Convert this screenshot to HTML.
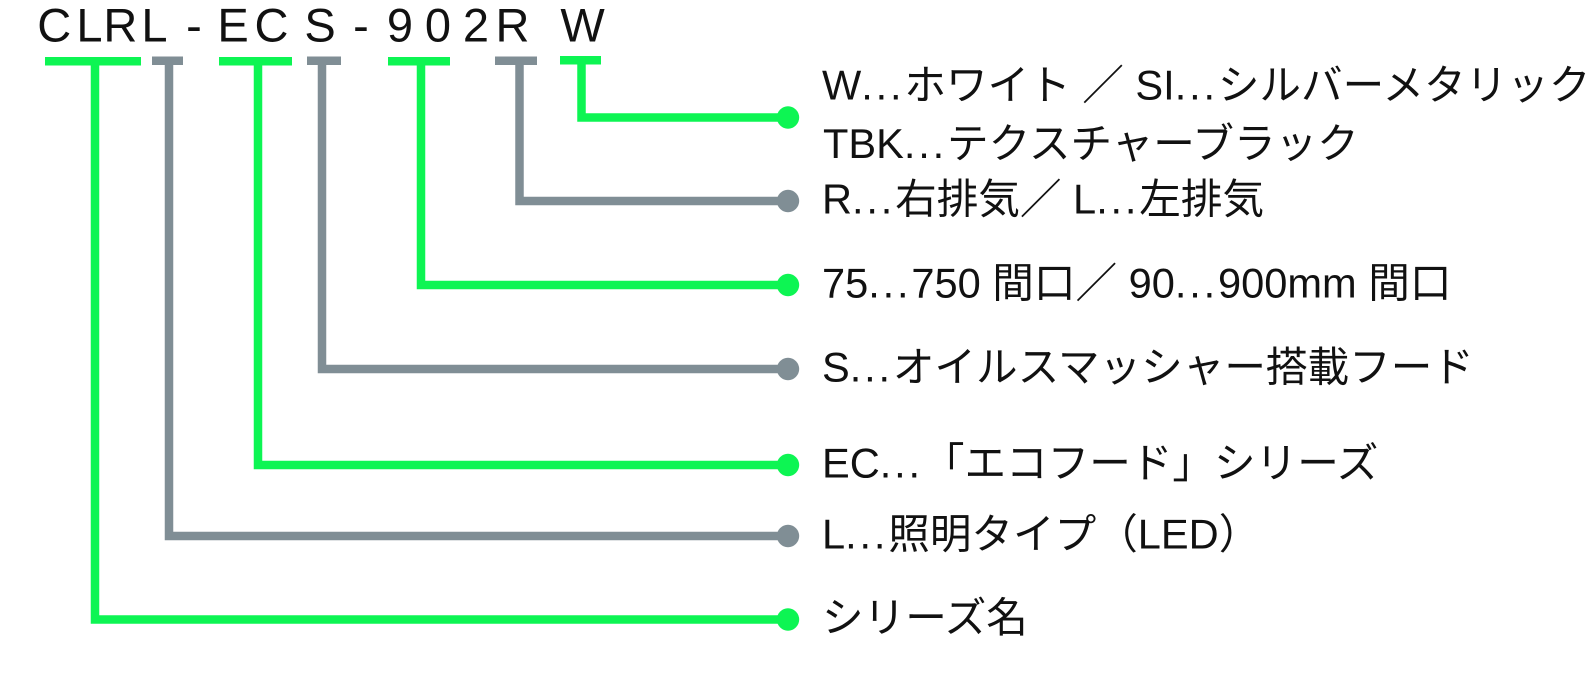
<!DOCTYPE html>
<html lang="ja">
<head>
<meta charset="utf-8">
<style>
  html, body { margin: 0; padding: 0; background: #ffffff; }
  body { width: 1589px; height: 675px; overflow: hidden; }
  svg { display: block; }
  .t { font-family: "Liberation Sans", "Noto Sans CJK JP", sans-serif; fill: #111111; }
  .lbl { font-size: 41.6px; }
  .ttl { font-size: 47px; }
  .d { letter-spacing: 2.8px; }
</style>
</head>
<body>
<svg width="1589" height="675" viewBox="0 0 1589 675" xmlns="http://www.w3.org/2000/svg">
  <!-- Title characters -->
  <g class="t ttl" text-anchor="middle">
    <text x="54.2" y="41.7">C</text>
    <text x="89.5" y="41.7">L</text>
    <text x="120.3" y="41.7">R</text>
    <text x="154.5" y="41.7">L</text>
    <text x="194" y="41.7">-</text>
    <text x="233" y="41.7">E</text>
    <text x="271.5" y="41.7">C</text>
    <text x="320" y="41.7">S</text>
    <text x="361" y="41.7">-</text>
    <text x="400" y="41.7">9</text>
    <text x="438" y="41.7">0</text>
    <text x="476" y="41.7">2</text>
    <text x="512.5" y="41.7">R</text>
    <text x="582.5" y="41.7">W</text>
  </g>

  <!-- Bars under title -->
  <rect x="45" y="57" width="96" height="8.5" fill="#0df553"/>
  <rect x="152" y="56.5" width="31" height="8.5" fill="#808e95"/>
  <rect x="219" y="57" width="73" height="8.5" fill="#0df553"/>
  <rect x="307" y="56.5" width="34" height="8.5" fill="#808e95"/>
  <rect x="388" y="57" width="62" height="8.5" fill="#0df553"/>
  <rect x="495" y="56.5" width="42" height="8.5" fill="#808e95"/>
  <rect x="560" y="56" width="41" height="8.5" fill="#0df553"/>

  <!-- Connectors -->
  <g fill="none" stroke-width="8.5" stroke-linejoin="miter" stroke-linecap="butt">
    <path d="M581.5 56 V117.5 H788" stroke="#0df553"/>
    <path d="M519.5 60 V201 H788" stroke="#808e95"/>
    <path d="M421 60 V285 H788" stroke="#0df553"/>
    <path d="M322 60 V369 H788" stroke="#808e95"/>
    <path d="M258 60 V465 H788" stroke="#0df553"/>
    <path d="M169 60 V536 H788" stroke="#808e95"/>
    <path d="M95 60 V619.5 H788" stroke="#0df553"/>
  </g>

  <!-- End dots -->
  <circle cx="788" cy="117.5" r="11.2" fill="#0df553"/>
  <circle cx="788" cy="201" r="11.2" fill="#808e95"/>
  <circle cx="788" cy="285" r="11.2" fill="#0df553"/>
  <circle cx="788" cy="369" r="11.2" fill="#808e95"/>
  <circle cx="788" cy="465" r="11.2" fill="#0df553"/>
  <circle cx="788" cy="536" r="11.2" fill="#808e95"/>
  <circle cx="788" cy="619.5" r="11.2" fill="#0df553"/>

  <!-- Labels -->
  <g class="t lbl">
    <text x="822" y="99.5">W<tspan class="d">...</tspan>ホワイト ／ SI<tspan class="d">...</tspan>シルバーメタリック</text>
    <text x="823" y="158">TBK<tspan class="d">...</tspan>テクスチャーブラック</text>
    <text x="822" y="213.5">R<tspan class="d">...</tspan>右排気／ L<tspan class="d">...</tspan>左排気</text>
    <text x="822" y="297.5">75<tspan class="d">...</tspan>750 間口／ 90<tspan class="d">...</tspan>900mm 間口</text>
    <text x="822" y="381.5">S<tspan class="d">...</tspan>オイルスマッシャー搭載フード</text>
    <text x="822" y="477.5">EC<tspan class="d">...</tspan>「エコフード」シリーズ</text>
    <text x="822" y="548.5">L<tspan class="d">...</tspan>照明タイプ（LED）</text>
    <text x="822" y="632">シリーズ名</text>
  </g>
</svg>
</body>
</html>
